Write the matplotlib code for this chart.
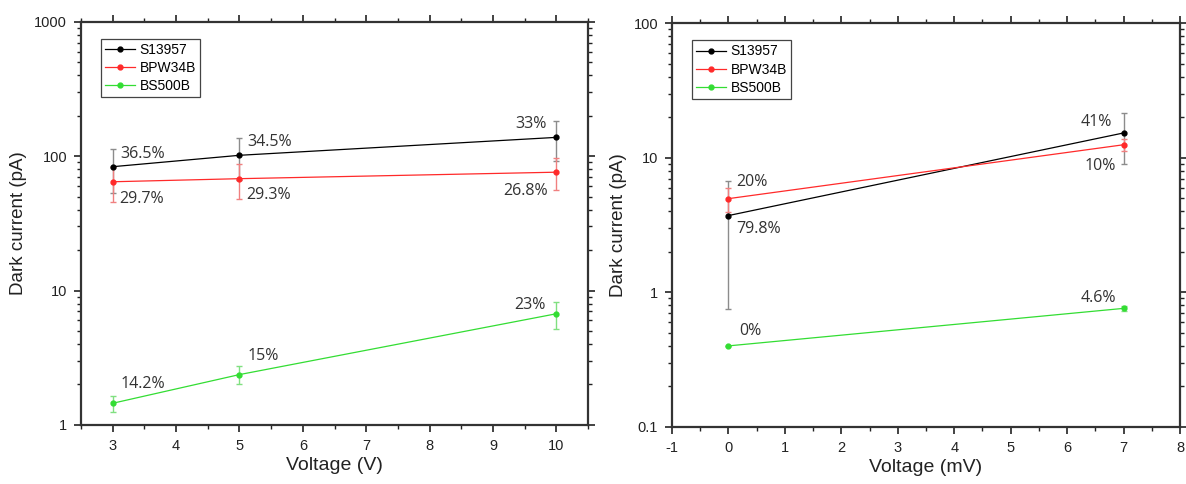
import numpy as np
import matplotlib
matplotlib.use('Agg')
import matplotlib.pyplot as plt
from matplotlib.ticker import FuncFormatter, LogLocator, MultipleLocator

# ---- data: left panel (Voltage in V) ----
volt_v = [3, 5, 10]
s13957_v = [83.5, 101.5, 138.0]
bpw34b_v = [64.5, 68.0, 76.0]
bs500b_v = [1.45, 2.37, 6.72]
s13957_pct = [36.5, 34.5, 33.0]
bpw34b_pct = [29.7, 29.3, 26.8]
bs500b_pct = [14.2, 15.0, 23.0]
s13957_lbl = ['36.5%', '34.5%', '33%']
bpw34b_lbl = ['29.7%', '29.3%', '26.8%']
bs500b_lbl = ['14.2%', '15%', '23%']

# ---- data: right panel (Voltage in mV) ----
volt_mv = [0, 7]
s13957_mv = [3.72, 15.3]
bpw34b_mv = [4.97, 12.5]
bs500b_mv = [0.40, 0.76]
s13957_pct_mv = [79.8, 41.0]
bpw34b_pct_mv = [20.0, 10.0]
bs500b_pct_mv = [0.0, 4.6]
s13957_lbl_mv = ['79.8%', '41%']
bpw34b_lbl_mv = ['20%', '10%']
bs500b_lbl_mv = ['0%', '4.6%']

series_names = ['S13957', 'BPW34B', 'BS500B']
line_cols = ['#000000', '#ff2a2a', '#33dd33']
err_cols = ['#8c8c8c', '#f08080', '#80e080']

plt.rcParams['font.family'] = ['Liberation Sans', 'DejaVu Sans']
plt.rcParams['axes.unicode_minus'] = False
fig = plt.figure(figsize=(11.86, 4.84), dpi=100)
ax1 = fig.add_axes([0.0683, 0.122, 0.4275, 0.833])
ax2 = fig.add_axes([0.5666, 0.118, 0.4284, 0.834])

fmt = FuncFormatter(lambda v, p: '%g' % v)
pct_font = dict(family='Open Sans', fontsize=11.5, color='#333333')


def draw(ax, x, ys, pcts):
    for y, pc, lc, ec, nm in zip(ys, pcts, line_cols, err_cols, series_names):
        y = np.array(y)
        err = y * np.array(pc) / 100.0
        ax.errorbar(x, y, yerr=err, fmt='none', ecolor=ec, elinewidth=1,
                    capsize=2.5, capthick=1, zorder=2)
        ax.plot(x, y, '-o', color=lc, lw=0.9, ms=3.5, label=nm, zorder=3)


def style(ax, xlim, ylim, xlabel, xmaj):
    ax.set_yscale('log')
    ax.set_xlim(*xlim)
    ax.set_ylim(*ylim)
    ax.xaxis.set_major_locator(MultipleLocator(xmaj))
    ax.xaxis.set_minor_locator(MultipleLocator(xmaj / 2))
    ax.yaxis.set_major_locator(LogLocator(base=10))
    ax.yaxis.set_minor_locator(LogLocator(base=10, subs=np.arange(2, 10)))
    ax.yaxis.set_major_formatter(fmt)
    ax.yaxis.set_minor_formatter(FuncFormatter(lambda v, p: ''))
    ax.tick_params(which='both', top=True, right=True, direction='out',
                   labelsize=10.5, colors='#222222', pad=5)
    ax.tick_params(which='major', length=5, width=1.2)
    ax.tick_params(which='minor', length=3, width=1)
    for sp in ax.spines.values():
        sp.set_linewidth(1.6)
        sp.set_color('#333333')
    ax.set_xlabel(xlabel, fontsize=14, labelpad=3, color='#222222')
    ax.set_ylabel('Dark current (pA)', fontsize=13.5, labelpad=5, color='#222222')
    leg = ax.legend(loc='upper left', bbox_to_anchor=(0.025, 0.975),
                    fontsize=10, fancybox=False, framealpha=1,
                    edgecolor='#444444', handlelength=2.2,
                    borderpad=0.3, labelspacing=0.3, handletextpad=0.3)
    leg.get_frame().set_linewidth(0.9)


# left panel
draw(ax1, volt_v, [s13957_v, bpw34b_v, bs500b_v],
     [s13957_pct, bpw34b_pct, bs500b_pct])
style(ax1, (2.5, 10.5), (1, 1000), 'Voltage (V)', 1)

for i, xv in enumerate(volt_v):
    if i < 2:
        ax1.text(xv + 0.12, s13957_v[i] * 1.25, s13957_lbl[i], ha='left', va='center', **pct_font)
        ax1.text(xv + 0.1, bpw34b_v[i] * 0.75, bpw34b_lbl[i], ha='left', va='center', **pct_font)
        ax1.text(xv + 0.12, bs500b_v[i] * 1.38, bs500b_lbl[i], ha='left', va='center', **pct_font)
    else:
        ax1.text(xv - 0.15, s13957_v[i] * 1.25, s13957_lbl[i], ha='right', va='center', **pct_font)
        ax1.text(xv - 0.13, bpw34b_v[i] * 0.73, bpw34b_lbl[i], ha='right', va='center', **pct_font)
        ax1.text(xv - 0.17, bs500b_v[i] * 1.16, bs500b_lbl[i], ha='right', va='center', **pct_font)

# right panel
draw(ax2, volt_mv, [s13957_mv, bpw34b_mv, bs500b_mv],
     [s13957_pct_mv, bpw34b_pct_mv, bs500b_pct_mv])
style(ax2, (-1, 8), (0.1, 100), 'Voltage (mV)', 1)

ax2.text(volt_mv[0] + 0.14, bpw34b_mv[0] * 1.33, bpw34b_lbl_mv[0], ha='left', va='center', **pct_font)
ax2.text(volt_mv[0] + 0.14, s13957_mv[0] * 0.8, s13957_lbl_mv[0], ha='left', va='center', **pct_font)
ax2.text(volt_mv[0] + 0.2, bs500b_mv[0] * 1.28, bs500b_lbl_mv[0], ha='left', va='center', **pct_font)
ax2.text(volt_mv[1] - 0.2, s13957_mv[1] * 1.2, s13957_lbl_mv[1], ha='right', va='center', **pct_font)
ax2.text(volt_mv[1] - 0.14, bpw34b_mv[1] * 0.69, bpw34b_lbl_mv[1], ha='right', va='center', **pct_font)
ax2.text(volt_mv[1] - 0.13, bs500b_mv[1] * 1.19, bs500b_lbl_mv[1], ha='right', va='center', **pct_font)

fig.savefig('out.png', dpi=100, facecolor='white')
